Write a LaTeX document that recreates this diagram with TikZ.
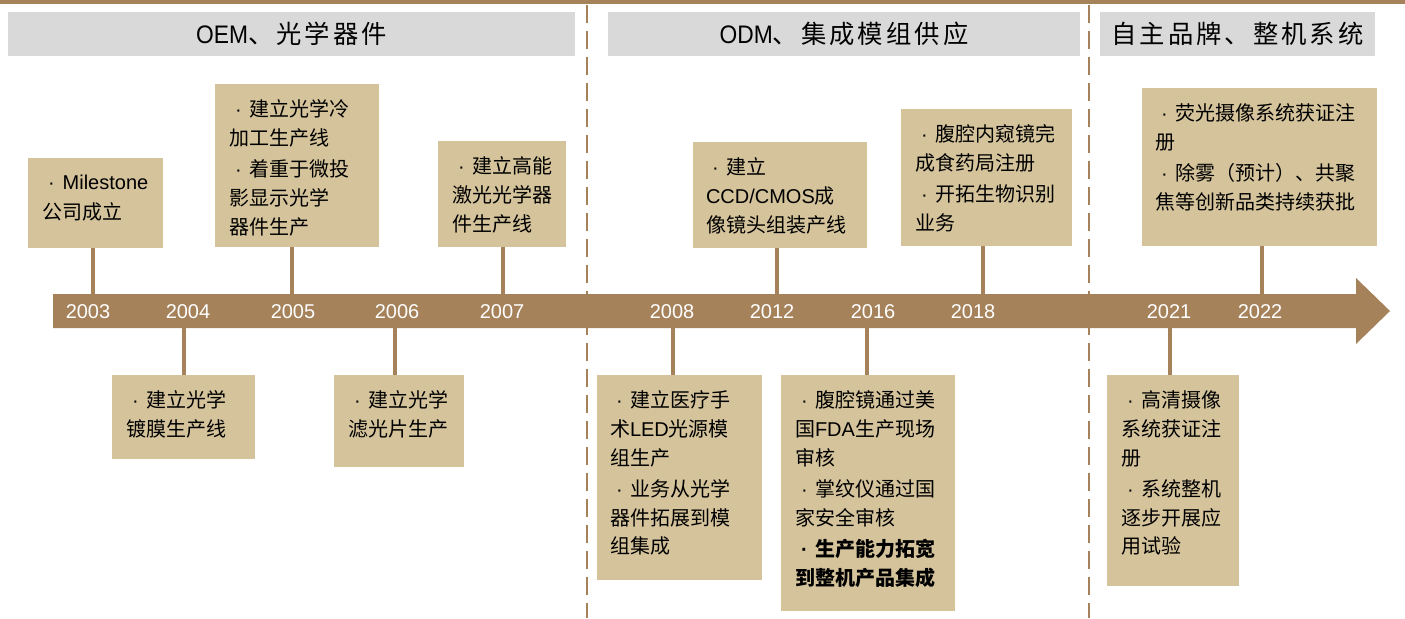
\documentclass[tikz,border=0pt]{standalone}
\usepackage{fontspec}
\setmainfont{Noto Sans CJK SC}
\newfontfamily\lat{Liberation Sans}
\newfontfamily\hdrcjk[LetterSpace=12]{Noto Sans CJK SC}
\newfontfamily\hdrlat[FakeStretch=0.9]{Liberation Sans}
\usetikzlibrary{fit,calc}
\definecolor{brn}{HTML}{A6825B}
\definecolor{boxtan}{HTML}{D4C39B}
\definecolor{hdrgray}{HTML}{D9D9D9}
\newcommand\mybul{\makebox[15.5pt][l]{\hspace{4.5pt}{\lat ·}}}
\begin{document}
\begin{tikzpicture}[x=0.75pt,y=-0.75pt,
  box/.style={fill=boxtan, inner sep=0pt, draw=none},
  txt/.style={anchor=north west, inner sep=0pt, align=left, text=black,
    font=\fontsize{15}{21.5}\selectfont, execute at begin node={\rule{0pt}{16pt}}},
  conn/.style={draw=brn, line width=3.2pt},
  yr/.style={text=white, font=\lat\fontsize{15}{18}\selectfont, inner sep=0pt},
  hdr/.style={fill=hdrgray, inner sep=0pt, draw=none},
  hdrtxt/.style={text=black, inner sep=0pt},
  divider/.style={draw=brn, line width=1.7pt, dash pattern=on 13.5pt off 6pt},
]
\useasboundingbox (0,0) rectangle (1405,618);
% top rule
\coordinate (tl) at (0,2);
\coordinate (tr) at (1405,2);
\draw[brn, line width=2.4pt] (tl) -- (tr);
% dividers
\coordinate (d1t) at (587,5);
\coordinate (d1b) at (587,618);
\coordinate (d2t) at (1089,5);
\coordinate (d2b) at (1089,618);
\draw[divider] (d1t) -- (d1b);
\draw[divider] (d2t) -- (d2b);
% headers
\node[hdr, fit={(8,12)(575,56)}] (h1) {};
\node[hdrtxt] (h1t) at (h1.center) {\fontsize{19}{21}\selectfont\hdrlat OEM\hdrcjk 、光学器件};
\node[hdr, fit={(608,12)(1080,56)}] (h2) {};
\node[hdrtxt] (h2t) at (h2.center) {\fontsize{19}{21}\selectfont\hdrlat ODM\hdrcjk 、集成模组供应};
\node[hdr, fit={(1100,12)(1375,56)}] (h3) {};
\node[hdrtxt] (h3t) at (h3.center) {\fontsize{19}{21}\selectfont\hdrcjk 自主品牌、整机系统};
% boxes above
\node[box, fit={(28,158)(163,248)}] (b03) {};
\node[box, fit={(215,84)(379,247)}] (b05) {};
\node[box, fit={(438,141)(566,247)}] (b07) {};
\node[box, fit={(693,142)(867,248)}] (b12) {};
\node[box, fit={(901,109)(1072,246)}] (b18) {};
\node[box, fit={(1142,88)(1377,246)}] (b22) {};
% boxes below
\node[box, fit={(112,375)(255,459)}] (b04) {};
\node[box, fit={(334,375)(464,467)}] (b06) {};
\node[box, fit={(597,375)(762,580)}] (b08) {};
\node[box, fit={(781,375)(955,611)}] (b16) {};
\node[box, fit={(1107,375)(1239,586)}] (b21) {};
% connector anchors on bar
\coordinate (c03) at (93,294);
\coordinate (c05) at (292,294);
\coordinate (c07) at (503,294);
\coordinate (c12) at (777,294);
\coordinate (c18) at (983,294);
\coordinate (c22) at (1262,294);
\coordinate (c04) at (184,328);
\coordinate (c06) at (395,328);
\coordinate (c08) at (673,328);
\coordinate (c16) at (867,328);
\coordinate (c21) at (1170,328);
\draw[conn] (c03) -- (c03 |- b03.south);
\draw[conn] (c05) -- (c05 |- b05.south);
\draw[conn] (c07) -- (c07 |- b07.south);
\draw[conn] (c12) -- (c12 |- b12.south);
\draw[conn] (c18) -- (c18 |- b18.south);
\draw[conn] (c22) -- (c22 |- b22.south);
\draw[conn] (c04) -- (c04 |- b04.north);
\draw[conn] (c06) -- (c06 |- b06.north);
\draw[conn] (c08) -- (c08 |- b08.north);
\draw[conn] (c16) -- (c16 |- b16.north);
\draw[conn] (c21) -- (c21 |- b21.north);
% timeline arrow
\coordinate (a1) at (53,294);
\coordinate (a2) at (1356,294);
\coordinate (a3) at (1356,278);
\coordinate (a4) at (1390,311);
\coordinate (a5) at (1356,344);
\coordinate (a6) at (1356,328);
\coordinate (a7) at (53,328);
\fill[brn] (a1) -- (a2) -- (a3) -- (a4) -- (a5) -- (a6) -- (a7) -- cycle;
% years
\node[yr] (y03) at (88,312) {2003};
\node[yr] (y04) at (188,312) {2004};
\node[yr] (y05) at (293,312) {2005};
\node[yr] (y06) at (397,312) {2006};
\node[yr] (y07) at (502,312) {2007};
\node[yr] (y08) at (672,312) {2008};
\node[yr] (y12) at (772,312) {2012};
\node[yr] (y16) at (873,312) {2016};
\node[yr] (y18) at (973,312) {2018};
\node[yr] (y21) at (1169,312) {2021};
\node[yr] (y22) at (1260,312) {2022};
% texts
\node[txt] (t03) at ($(b03.north west)+(14,17)$) {\mybul{\lat Milestone}\\[1pt]公司成立};
\node[txt] (t05) at ($(b05.north west)+(14,16)$) {\mybul 建立光学冷\\加工生产线\\[2pt]\mybul 着重于微投\\影显示光学\\器件生产};
\node[txt] (t07) at ($(b07.north west)+(14,16)$) {\mybul 建立高能\\激光光学器\\件生产线};
\node[txt] (t12) at ($(b12.north west)+(13,16)$) {\mybul 建立\\{\lat CCD/CMOS}成\\像镜头组装产线};
\node[txt] (t18) at ($(b18.north west)+(14,16)$) {\mybul 腹腔内窥镜完\\成食药局注册\\[2pt]\mybul 开拓生物识别\\业务};
\node[txt] (t22) at ($(b22.north west)+(13,16)$) {\mybul 荧光摄像系统获证注\\册\\[2pt]\mybul 除雾（预计）、共聚\\焦等创新品类持续获批};
\node[txt] (t04) at ($(b04.north west)+(14,16)$) {\mybul 建立光学\\镀膜生产线};
\node[txt] (t06) at ($(b06.north west)+(14,16)$) {\mybul 建立光学\\滤光片生产};
\node[txt] (t08) at ($(b08.north west)+(13,16)$) {\mybul 建立医疗手\\术{\lat LED}光源模\\组生产\\[2pt]\mybul 业务从光学\\器件拓展到模\\组集成};
\node[txt] (t16) at ($(b16.north west)+(14,16)$) {\mybul 腹腔镜通过美\\国{\lat FDA}生产现场\\审核\\[2pt]\mybul 掌纹仪通过国\\家安全审核\\[2pt]{\bfseries\mybul 生产能力拓宽}\\{\bfseries 到整机产品集成}};
\node[txt] (t21) at ($(b21.north west)+(14,16)$) {\mybul 高清摄像\\系统获证注\\册\\[2pt]\mybul 系统整机\\逐步开展应\\用试验};
\end{tikzpicture}
\end{document}
